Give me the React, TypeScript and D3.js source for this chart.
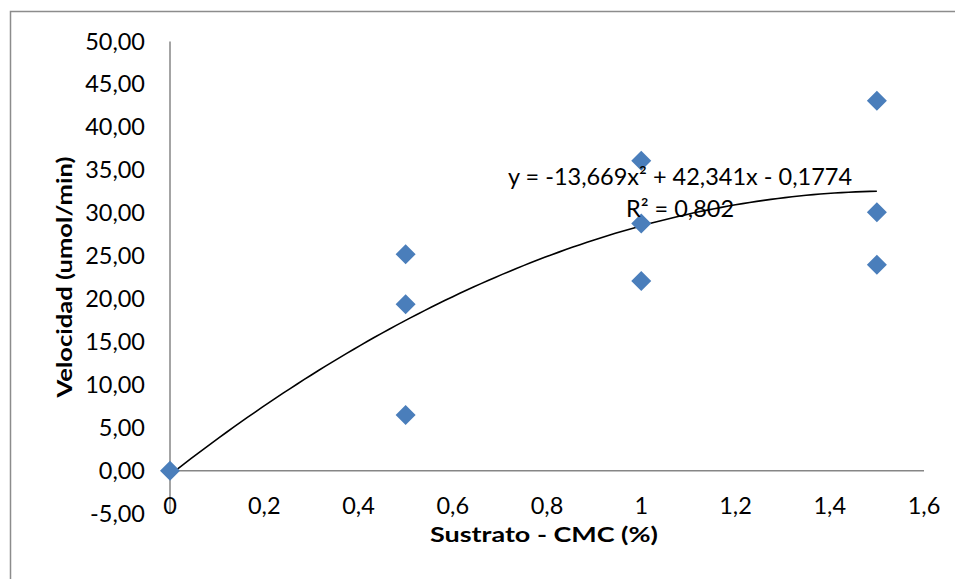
import React from "react";
import * as d3 from "d3";

const xValues = [0, 0.5, 0.5, 0.5, 1, 1, 1, 1.5, 1.5, 1.5];
const yValues = [0, 25.2, 19.4, 6.5, 36.1, 28.8, 22.1, 43.1, 30.1, 24.0];
const xTicks = [0, 0.2, 0.4, 0.6, 0.8, 1, 1.2, 1.4, 1.6];
const yTicks = [-5, 0, 5, 10, 15, 20, 25, 30, 35, 40, 45, 50];
const equationText = "y = -13,669x² + 42,341x - 0,1774";
const r2Text = "R² = 0,802";
const xTitle = "Sustrato - CMC (%)";
const yTitle = "Velocidad (umol/min)";

function quadFit(xs: number[], ys: number[]) {
  let s0 = 0, s1 = 0, s2 = 0, s3 = 0, s4 = 0, t0 = 0, t1 = 0, t2 = 0;
  xs.forEach((x, i) => {
    const y = ys[i];
    s0 += 1; s1 += x; s2 += x * x; s3 += x * x * x; s4 += x * x * x * x;
    t0 += y; t1 += x * y; t2 += x * x * y;
  });
  const M = [
    [s4, s3, s2, t2],
    [s3, s2, s1, t1],
    [s2, s1, s0, t0],
  ];
  for (let i = 0; i < 3; i++) {
    for (let j = i + 1; j < 3; j++) {
      const f = M[j][i] / M[i][i];
      for (let k = i; k < 4; k++) M[j][k] -= f * M[i][k];
    }
  }
  const sol = [0, 0, 0];
  for (let i = 2; i >= 0; i--) {
    let s = M[i][3];
    for (let k = i + 1; k < 3; k++) s -= M[i][k] * sol[k];
    sol[i] = s / M[i][i];
  }
  return sol;
}

const fmt = (v: number) => v.toFixed(2).replace(".", ",");
const fmtX = (v: number) => String(+v.toFixed(1)).replace(".", ",");

export default function App() {
  const W = 955, H = 579;
  const x = d3.scaleLinear().domain([0, 1.6]).range([170, 924]);
  const y = d3.scaleLinear().domain([-5, 50]).range([513.6, 41.5]);
  const [a, b, c] = quadFit(xValues, yValues);
  const xmin = d3.min(xValues)!, xmax = d3.max(xValues)!;
  const curvePts = d3.range(0, 101).map((i) => {
    const xv = xmin + ((xmax - xmin) * i) / 100;
    return [xv, a * xv * xv + b * xv + c] as [number, number];
  });
  const line = d3.line<[number, number]>().x((d) => x(d[0])).y((d) => y(d[1]));
  const font = "Lato, 'Open Sans', sans-serif";
  const axisColor = "#868686";
  return (
    <svg width={W} height={H} style={{ position: "absolute", left: 0, top: 0 }} fontFamily={font}>
      <rect x={0} y={0} width={W} height={H} fill="#fff" />
      <rect x={10.5} y={11.5} width={W + 20} height={H + 20} fill="none" stroke="#8c8c8c" strokeWidth={1.5} />
      <line x1={x(0)} x2={x(0)} y1={y(50)} y2={y(-5)} stroke={axisColor} strokeWidth={1.5} />
      <line x1={x(0)} x2={x(1.6)} y1={y(0)} y2={y(0)} stroke={axisColor} strokeWidth={1.5} />
      {yTicks.map((t) => (
        <text key={t} x={145} y={y(t) + 8} textAnchor="end" fontSize={23.5} fill="#000">
          {fmt(t)}
        </text>
      ))}
      {xTicks.map((t) => (
        <text key={t} x={x(t)} y={514} textAnchor="middle" fontSize={23.5} fill="#000">
          {fmtX(t)}
        </text>
      ))}
      <text x={544} y={542} textAnchor="middle" fontSize={21} fontWeight="bold" fill="#000"
        textLength={228} lengthAdjust="spacingAndGlyphs">
        {xTitle}
      </text>
      <text
        transform={`translate(${72},${277}) rotate(-90)`}
        textAnchor="middle"
        fontSize={21.5}
        fontWeight="bold"
        fill="#000"
        textLength={241}
        lengthAdjust="spacingAndGlyphs"
      >
        {yTitle}
      </text>
      <path d={line(curvePts) || ""} fill="none" stroke="#000" strokeWidth={1.6} />
      {xValues.map((xv, i) => {
        const cx = x(xv), cy = y(yValues[i]);
        const r = 10;
        return (
          <path
            key={i}
            d={`M${cx},${cy - r}L${cx + r},${cy}L${cx},${cy + r}L${cx - r},${cy}Z`}
            fill="#4a7ebb"
          />
        );
      })}
      <text x={680} y={185} textAnchor="middle" fontSize={23.5} fill="#000">
        {equationText}
      </text>
      <text x={680} y={217} textAnchor="middle" fontSize={23.5} fill="#000">
        {r2Text}
      </text>
    </svg>
  );
}
